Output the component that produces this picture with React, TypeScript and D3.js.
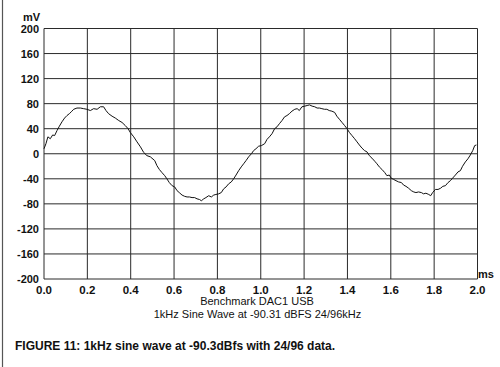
import * as d3 from "d3";

// time (ms) and level (mV)
const timeMs = [
  0, 0.009, 0.018, 0.029, 0.04, 0.049, 0.06, 0.071, 0.083, 0.095, 0.106, 0.117, 0.126, 0.137, 0.152,
  0.168, 0.183, 0.198, 0.214, 0.229, 0.245, 0.26, 0.275, 0.286, 0.298, 0.314, 0.329, 0.345, 0.36,
  0.375, 0.388, 0.398, 0.414, 0.429, 0.445, 0.46, 0.475, 0.491, 0.511, 0.521, 0.532, 0.544, 0.557,
  0.567, 0.578, 0.591, 0.603, 0.614, 0.624, 0.637, 0.649, 0.66, 0.671, 0.683, 0.695, 0.706, 0.717,
  0.726, 0.737, 0.747, 0.76, 0.772, 0.783, 0.793, 0.806, 0.818, 0.829, 0.84, 0.852, 0.864, 0.875,
  0.886, 0.898, 0.91, 0.921, 0.932, 0.944, 0.957, 0.967, 0.978, 0.99, 1.003, 1.018, 1.029, 1.04,
  1.052, 1.064, 1.075, 1.086, 1.098, 1.11, 1.121, 1.132, 1.144, 1.157, 1.168, 1.178, 1.19, 1.203,
  1.214, 1.225, 1.237, 1.249, 1.26, 1.271, 1.282, 1.294, 1.305, 1.316, 1.328, 1.341, 1.351, 1.363,
  1.375, 1.387, 1.398, 1.409, 1.421, 1.433, 1.444, 1.455, 1.467, 1.479, 1.49, 1.501, 1.513, 1.526,
  1.536, 1.547, 1.559, 1.572, 1.582, 1.593, 1.602, 1.613, 1.624, 1.636, 1.649, 1.659, 1.67, 1.682,
  1.695, 1.706, 1.716, 1.728, 1.741, 1.751, 1.762, 1.775, 1.784, 1.793, 1.806, 1.818, 1.83, 1.84,
  1.852, 1.864, 1.875, 1.885, 1.898, 1.91, 1.921, 1.931, 1.944, 1.956, 1.967, 1.978, 1.987, 1.995,
];
const levelMv = [
  8, 16, 27, 24, 30, 29, 37, 44, 51, 57, 61, 64, 67, 71, 73,
  73, 72, 71, 69, 72, 71, 75, 75, 69, 64, 60, 57, 53, 50,
  45, 40, 34, 27, 19, 11, 2, -3, -5, -11, -19, -25, -30, -35,
  -40, -46, -51, -53, -59, -62, -66, -68, -69, -69, -70, -70, -72, -73,
  -75, -72, -70, -67, -69, -66, -65, -64, -62, -56, -53, -48, -45, -40,
  -34, -27, -21, -16, -11, -5, 0, 5, 8, 12, 13, 16, 23, 27,
  32, 40, 43, 48, 53, 59, 61, 64, 68, 71, 72, 69, 75, 76,
  77, 78, 76, 75, 73, 73, 72, 71, 71, 69, 68, 66, 60, 55,
  50, 45, 40, 34, 29, 24, 19, 14, 9, 5, 3, -3, -7, -12,
  -16, -21, -25, -30, -35, -34, -39, -41, -43, -45, -46, -50, -52, -55,
  -59, -61, -62, -61, -62, -64, -63, -65, -67, -62, -57, -57, -55, -52,
  -51, -46, -43, -39, -34, -29, -27, -20, -13, -8, -2, 5, 13, 14,
];

const xTicks = [0, 0.2, 0.4, 0.6, 0.8, 1.0, 1.2, 1.4, 1.6, 1.8, 2.0];
const yTicks = [-200, -160, -120, -80, -40, 0, 40, 80, 120, 160, 200];

const title = "Benchmark DAC1 USB";
const subtitle = "1kHz Sine Wave at -90.31 dBFS 24/96kHz";
const caption = "FIGURE 11: 1kHz sine wave at -90.3dBfs with 24/96 data.";

export default function App() {
  const width = 500;
  const height = 367;
  const left = 44;
  const right = 477.5;
  const top = 28.5;
  const bottom = 279;

  const x = d3.scaleLinear().domain([0, 2]).range([left, right]);
  const y = d3.scaleLinear().domain([-200, 200]).range([bottom, top]);

  const line = d3
    .line<number>()
    .x((_, i) => x(timeMs[i]))
    .y((d) => y(d));

  const font = "'Liberation Sans', Arial, sans-serif";

  return (
    <svg
      width={width}
      height={height}
      style={{ position: "absolute", left: 0, top: 0, background: "#fff" }}
      fontFamily={font}
    >
      {/* scan edge */}
      <line x1={2.5} x2={2.5} y1={0} y2={height} stroke="#555" strokeWidth={1.2} />

      {/* grid */}
      <g stroke="#2a2a2a" strokeWidth={1}>
        {yTicks.map((t) => (
          <line key={"h" + t} x1={left} x2={right} y1={y(t)} y2={y(t)} />
        ))}
        {xTicks.map((t) => (
          <line key={"v" + t} x1={x(t)} x2={x(t)} y1={top} y2={bottom} />
        ))}
      </g>

      {/* trace */}
      <path d={line(levelMv) ?? ""} fill="none" stroke="#111" strokeWidth={1} />

      {/* y labels */}
      <g fontSize={11} fontWeight="bold" fill="#111" textAnchor="end">
        {yTicks.map((t) => (
          <text key={t} x={39} y={y(t) + 4}>
            {t}
          </text>
        ))}
        <text x={40} y={21}>mV</text>
      </g>

      {/* x labels */}
      <g fontSize={11.5} fontWeight="bold" fill="#111" textAnchor="middle">
        {xTicks.map((t) => (
          <text key={t} x={x(t)} y={294}>
            {t.toFixed(1)}
          </text>
        ))}
      </g>
      <text x={478} y={278} fontSize={11} fontWeight="bold" fill="#111">
        ms
      </text>

      <g fontSize={11} fill="#111" textAnchor="middle">
        <text x={257} y={305}>{title}</text>
        <text x={257.5} y={318}>{subtitle}</text>
      </g>

      <text x={15} y={350} fontSize={12} fontWeight="bold" fill="#111">
        {caption}
      </text>
    </svg>
  );
}
